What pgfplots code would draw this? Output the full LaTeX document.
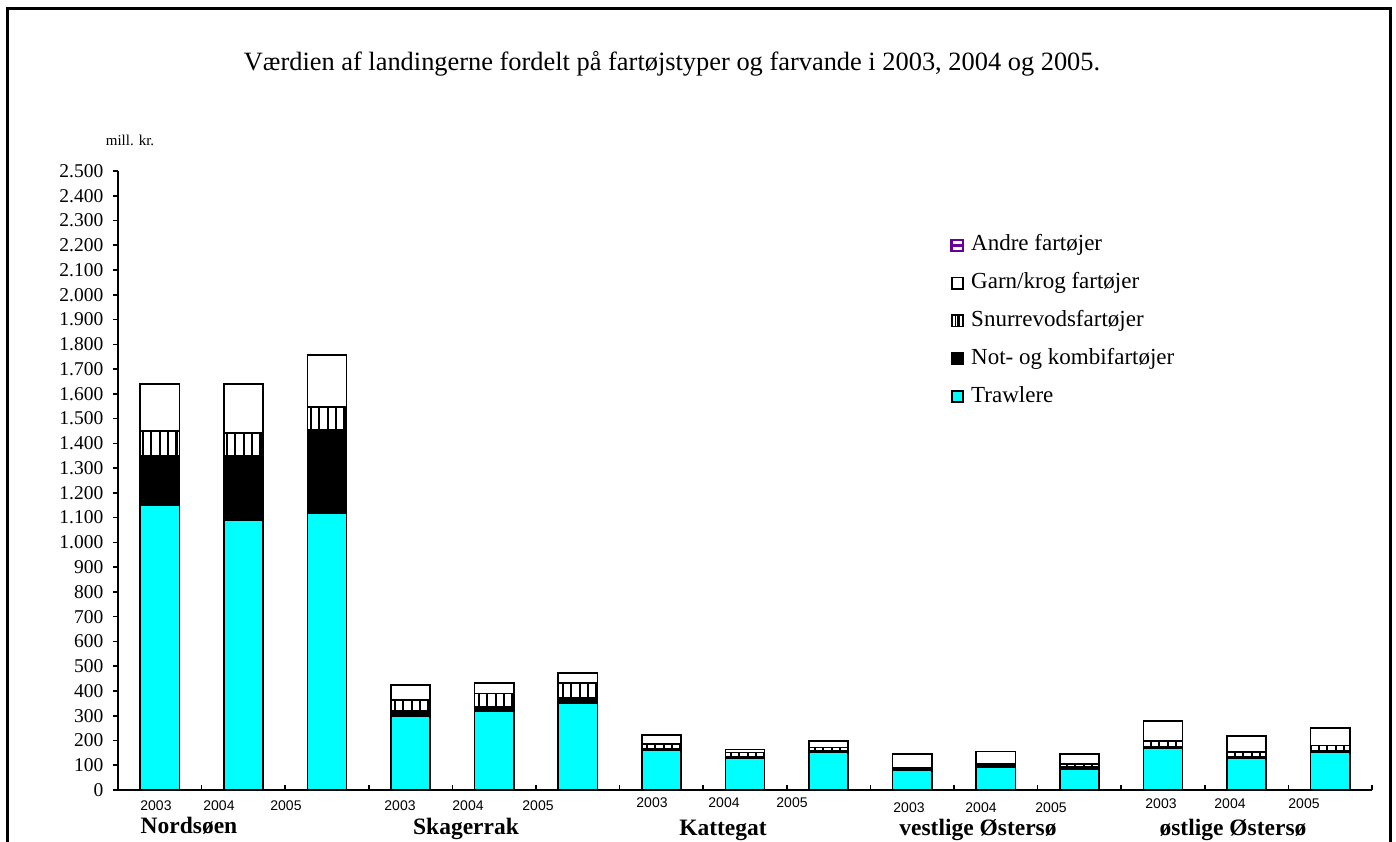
\documentclass[border=0pt]{standalone}
\usepackage{fontspec}
\setmainfont{Liberation Serif}
\newfontfamily\arial{Liberation Sans}
\usepackage{pgfplots}
\usepackage{pgfplotstable}
\pgfplotsset{compat=1.18}
\usetikzlibrary{patterns,patterns.meta}
\definecolor{trawl}{RGB}{0,255,255}
\definecolor{andre}{RGB}{102,0,153}

\pgfplotstableread{
x  trawl not snurre garn andre
0  1150  198 103    186  2
1  1090  258 95     194  2
2  1116  338 92     211  2
3  300   20  43     61   1
4  318   18  54     42   1
5  350   24  57     41   1
6  160   8   18     34   1
7  127   6   18     12   1
8  152   6   14     25   1
9  78    10  3      54   1
10 94    9   3      49   1
11 86    6   12     41   1
12 167   8   22     80   1
13 128   6   20     64   1
14 151   6   22     72   1
}\data

\begin{document}
\begin{tikzpicture}
\begin{axis}[
  name=ax,
  scale only axis, width=627pt, height=309.5pt,
  xmin=-0.5, xmax=14.5, ymin=0, ymax=2500,
  ybar stacked, bar width=0.47,
  axis x line*=bottom, axis y line*=left,
  axis line style={line width=1pt, black},
  xtick={0.5,1.5,...,14.5}, xticklabels={},
  ytick={0,100,...,2500},
  major tick length=2.5pt,
  tick style={line width=0.8pt, black},
  ytick style={xshift=-2.5pt},
  /pgf/number format/.cd, 1000 sep={.}, assume math mode=true, /pgfplots/.cd,
  yticklabel style={font=\fontsize{9.75}{11}\selectfont, xshift=-3.8pt},
  clip=false,
  legend image code/.code={\draw[#1, line width=0.9pt] (0pt,-2.8pt) rectangle (5.6pt,2.8pt);},
  reverse legend,
  legend cell align=left,
  legend style={at={(axis cs:9.45,2252)}, anchor=north west, draw=none, fill=none,
    font=\fontsize{11.5}{13}\selectfont, inner sep=0pt, row sep=6.4pt, column sep=2.5pt,
    nodes={inner sep=1pt, text height=8pt, text depth=2.5pt}},
]
\addplot[fill=trawl, draw=black, line width=0.8pt] table[x=x,y=trawl]{\data};
\addlegendentry{Trawlere}
\addplot[fill=black, draw=black, line width=0.8pt] table[x=x,y=not]{\data};
\addlegendentry{Not- og kombifartøjer}
\addplot[fill=white, postaction={pattern={Lines[angle=90,distance=4.2pt,line width=1.1pt]}}, draw=black, line width=0.8pt,
  legend image code/.code={\draw[black, line width=0.9pt, fill=white] (0pt,-2.8pt) rectangle (5.6pt,2.8pt); \draw[black, line width=0.9pt] (1.9pt,-2.8pt) -- (1.9pt,2.8pt) (3.7pt,-2.8pt) -- (3.7pt,2.8pt);}] table[x=x,y=snurre]{\data};
\addlegendentry{Snurrevodsfartøjer}
\addplot[fill=white, draw=black, line width=0.8pt] table[x=x,y=garn]{\data};
\addlegendentry{Garn/krog fartøjer}
\addplot[fill=andre, draw=black, line width=0.8pt,
  legend image code/.code={\draw[andre, line width=1.2pt, fill=white] (0pt,-2.8pt) rectangle (5.6pt,2.8pt); \draw[andre, line width=1.4pt] (0pt,0pt) -- (5.6pt,0pt);}] table[x=x,y=andre]{\data};
\addlegendentry{Andre fartøjer}
\end{axis}

% texts
\node[font=\fontsize{13.2}{15}\selectfont] at (277pt,363pt) {Værdien af landingerne fordelt på fartøjstyper og farvande i 2003, 2004 og 2005.};
\node[font=\fontsize{7.5}{9}\selectfont] at (6pt,325pt) {mill. kr.};

\begin{scope}[every node/.style={font=\arial\fontsize{7}{8}\selectfont}]
\node at (19pt,-8pt) {2003};
\node at (50.5pt,-8pt) {2004};
\node at (84pt,-8pt) {2005};
\node at (141pt,-8pt) {2003};
\node at (175pt,-8pt) {2004};
\node at (210pt,-8pt) {2005};
\node at (267pt,-6.5pt) {2003};
\node at (303pt,-6.5pt) {2004};
\node at (337pt,-6.5pt) {2005};
\node at (395.5pt,-9pt) {2003};
\node at (431.5pt,-9pt) {2004};
\node at (466.5pt,-9pt) {2005};
\node at (521.5pt,-7pt) {2003};
\node at (556pt,-7pt) {2004};
\node at (593pt,-7pt) {2005};
\end{scope}

\begin{scope}[every node/.style={font=\bfseries\fontsize{11.75}{13}\selectfont, anchor=base}]
\node at (35.5pt,-21.5pt) {Nordsøen};
\node at (174pt,-22pt) {Skagerrak};
\node at (302.5pt,-22.5pt) {Kattegat};
\node at (430pt,-22.8pt) {vestlige Østersø};
\node at (557.5pt,-22.8pt) {østlige Østersø};
\end{scope}

\draw[line width=1.5pt] (-55pt,-40pt) -- (-55pt,390.5pt) -- (636pt,390.5pt) -- (636pt,-40pt);
\pgfresetboundingbox
\path[use as bounding box] (-59pt,-25.5pt) rectangle (639pt,395pt);
\end{tikzpicture}
\end{document}
